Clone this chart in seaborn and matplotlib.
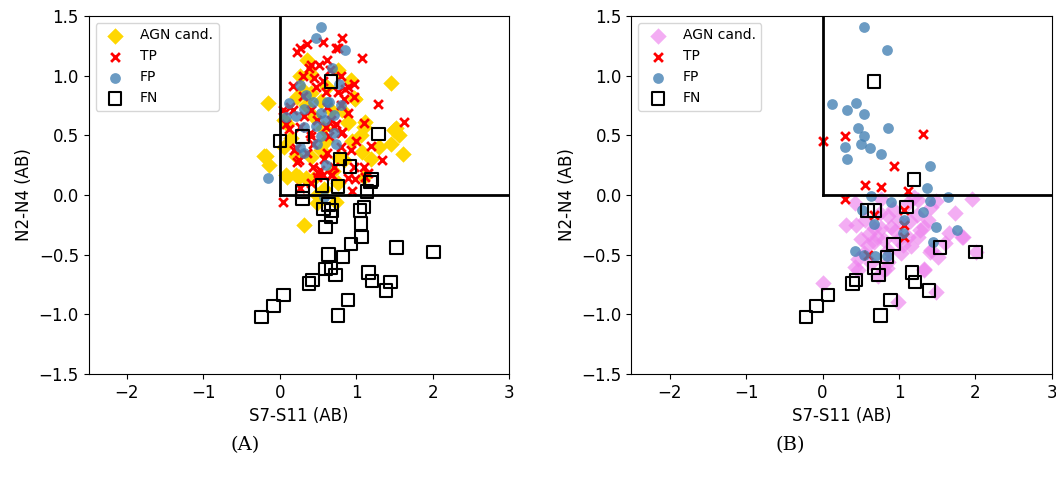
import matplotlib
matplotlib.use("Agg")
import matplotlib.pyplot as plt
import seaborn as sns

# ---- panel A data (S7-S11, N2-N4) ----
agn_a_x = [1.45, -0.16, 0.27, 0.41, 0.23, 0.97, 0.89, 0.05, 1.49, 1.45, 1.61, 1.10, 1.06,
           -0.21, -0.14, 0.10, 0.25, 0.76, 1.10, 0.41, 0.84, 0.54, 0.67, 0.54, 0.76, 0.36,
           0.49, 0.10, 0.98, 0.89, 1.52, 1.56, 1.08, 1.12, 0.34, 0.77, 0.43, 0.21, 0.56,
           0.82, 0.93, 0.08, 0.32, 0.49, 0.73, 0.34, -0.18, 0.21, 0.60, 0.45, 0.15, 1.30,
           0.62, 0.70, 0.30, 0.95, 1.20, 0.58, 0.40, 0.05]
agn_a_y = [0.94, 0.77, 1.00, 0.85, 0.82, 0.81, 0.60, 0.63, 0.54, 0.43, 0.34, 0.57, 0.50,
           0.33, 0.25, 0.15, 0.15, 0.10, 0.15, 0.32, 0.29, 0.38, 0.71, 0.79, 1.05, 1.13,
           0.00, 0.59, 0.80, 0.61, 0.56, 0.50, 0.36, 0.61, 0.75, 0.31, 0.13, 0.17, 0.56,
           0.71, 0.96, 0.17, -0.25, -0.07, -0.06, 0.14, 0.33, 0.33, 0.45, 0.65, 0.48, 0.40,
           0.90, 0.20, 0.88, 0.45, 0.30, 0.05, 1.02, 0.40]

tp_a_x = [0.27, 0.36, 0.56, 0.82, 0.76, 1.07, 0.62, 0.41, 0.30, 0.45, 0.56, 0.80, 0.89,
          0.97, 0.17, 0.47, 0.60, 0.76, 0.84, 1.28, 0.04, 0.14, 0.41, 0.62, 0.80, 0.89,
          0.32, 0.49, 0.67, 1.62, 1.10, 0.27, 0.71, 0.41, 0.64, 0.80, 1.19, 1.34, 0.19,
          0.23, 0.36, 0.62, 0.80, 0.93, 0.43, 0.53, 0.71, 0.97, 1.10, 0.49, 0.67, 0.89,
          0.99, 1.15, 0.95, 0.04, 0.27, 0.41, 0.23, 0.51, 0.73, 0.38, 0.17, 0.08, 0.82,
          0.50, 0.69, 1.12, 0.56, 0.86, 0.97, 0.21, 0.25, 0.44, 0.60, 0.73, 1.00, 0.30,
          0.39, 0.66, 0.58, 0.12]
tp_a_y = [1.23, 1.26, 1.28, 1.31, 1.23, 1.15, 1.13, 1.09, 1.00, 0.98, 0.95, 1.00, 0.90,
          0.93, 0.91, 0.90, 0.86, 0.86, 0.80, 0.76, 0.71, 0.74, 0.71, 0.74, 0.75, 0.69,
          0.66, 0.63, 0.63, 0.61, 0.60, 0.57, 0.57, 0.49, 0.49, 0.52, 0.41, 0.29, 0.38,
          0.28, 0.35, 0.35, 0.40, 0.38, 0.23, 0.21, 0.23, 0.23, 0.23, 0.15, 0.17, 0.14,
          0.13, 0.18, 0.03, -0.06, 0.06, 0.10, 1.20, 1.09, 1.23, 1.06, 0.71, 0.59, 0.53,
          0.18, 0.17, 0.15, 0.17, 0.89, 0.82, 0.39, 0.29, 0.43, 0.57, 0.59, 0.45, 0.83,
          0.52, 1.05, 0.30, 0.55]

fp_a_x = [0.54, 0.47, 0.85, 0.68, 0.77, 0.27, 0.43, 0.34, 0.62, 0.12, 0.32, 0.54, 0.21,
          0.08, 0.71, 0.59, 0.47, 0.32, 0.71, 0.54, 0.27, 0.49, 0.73, 0.32, 0.60, -0.16,
          0.58, 0.80, 0.64]
fp_a_y = [1.41, 1.31, 1.21, 1.06, 0.93, 0.92, 0.78, 0.84, 0.78, 0.77, 0.72, 0.69, 0.66,
          0.65, 0.67, 0.63, 0.58, 0.57, 0.52, 0.49, 0.40, 0.43, 0.43, 0.35, 0.25, 0.14,
          -0.02, 0.75, 0.78]

fn_a_x = [0.67, 0.30, 0.00, 1.29, 0.79, 0.92, 1.20, 0.55, 0.76, 1.19, 1.14, 0.30, 0.30,
          0.64, 0.57, 0.68, 0.67, 1.10, 1.05, 1.06, 0.60, 1.07, 0.93, 1.53, 2.01, 0.64,
          0.83, 0.60, 0.67, 0.73, 1.16, 1.21, 1.45, 1.39, 0.43, 0.38, 0.05, -0.08, -0.24,
          0.89, 0.76]
fn_a_y = [0.95, 0.49, 0.45, 0.51, 0.30, 0.24, 0.13, 0.08, 0.07, 0.11, 0.03, 0.03, -0.03,
          -0.08, -0.12, -0.13, -0.18, -0.10, -0.13, -0.24, -0.27, -0.35, -0.41, -0.44, -0.48,
          -0.50, -0.52, -0.62, -0.61, -0.67, -0.65, -0.72, -0.73, -0.80, -0.71, -0.74, -0.84,
          -0.93, -1.02, -0.88, -1.01]

# ---- panel B data ----
agn_b_x = [0.42, 0.31, 0.44, 0.55, 0.75, 0.86, 0.77, 0.71, 0.90, 0.99, 1.25, 1.23, 1.42,
           1.73, 1.95, 1.33, 1.25, 1.65, 1.82, 1.42, 1.16, 0.99, 1.03, 0.86, 0.68, 0.54,
           0.47, 0.64, 0.86, 0.47, 1.33, 1.51, 2.01, 0.81, 1.12, 0.61, 0.01, 0.43, 0.73,
           0.99, 1.33, 1.48, 0.85, 1.84, 0.77, 1.20, 1.49, 1.12, 1.27, 1.38, 0.95, 1.05,
           0.60, 0.80, 1.15, 0.50, 0.92, 1.60, 0.68, 1.40]
agn_b_y = [-0.07, -0.25, -0.25, -0.21, -0.15, -0.18, -0.28, -0.35, -0.27, -0.21, -0.04,
           -0.17, -0.10, -0.15, -0.03, -0.27, -0.35, -0.32, -0.35, -0.46, -0.43, -0.38,
           -0.49, -0.46, -0.39, -0.49, -0.54, -0.57, -0.56, -0.63, -0.63, -0.52, -0.48,
           -0.63, -0.35, -0.33, -0.74, -0.60, -0.68, -0.90, -0.62, -0.81, -0.61, -0.35,
           -0.03, -0.02, -0.05, -0.07, -0.29, -0.21, -0.30, -0.42, -0.42, -0.38, -0.22,
           -0.37, -0.12, -0.40, -0.28, -0.48]

tp_b_x = [0.01, 0.30, 1.31, 0.93, 0.55, 0.76, 1.12, 0.29, 1.06, 0.67, 1.07, 1.07, 0.60]
tp_b_y = [0.45, 0.49, 0.51, 0.24, 0.08, 0.07, 0.03, -0.03, -0.13, -0.17, -0.25, -0.35, -0.50]

fp_b_x = [0.54, 0.85, 0.12, 0.32, 0.44, 0.54, 0.47, 0.86, 0.54, 0.30, 0.50, 0.62, 0.32,
          0.77, 1.40, 1.37, 0.64, 0.89, 1.40, 1.64, 0.51, 0.67, 1.32, 1.07, 1.49, 1.76,
          1.05, 1.45, 0.42, 0.54, 0.69, 0.84]
fp_b_y = [1.41, 1.21, 0.76, 0.71, 0.77, 0.68, 0.56, 0.56, 0.49, 0.40, 0.43, 0.39, 0.30,
          0.34, 0.24, 0.06, -0.01, -0.06, -0.05, -0.02, -0.13, -0.24, -0.14, -0.21, -0.27,
          -0.29, -0.32, -0.39, -0.47, -0.50, -0.51, -0.51]

fn_b_x = [0.67, 1.20, 0.59, 0.68, 1.10, 0.93, 0.84, 1.54, 2.00, 0.67, 0.73, 0.44, 0.39,
          1.17, 1.21, 1.39, 0.89, 0.76, 0.07, -0.08, -0.22]
fn_b_y = [0.95, 0.13, -0.13, -0.13, -0.10, -0.41, -0.52, -0.44, -0.48, -0.61, -0.67, -0.71,
          -0.74, -0.65, -0.73, -0.80, -0.88, -1.01, -0.84, -0.93, -1.02]


def draw_panel(ax, agn_x, agn_y, agn_color, agn_alpha, tp_x, tp_y, fp_x, fp_y, fn_x, fn_y):
    sns.scatterplot(x=agn_x, y=agn_y, ax=ax, marker="D", s=70, color=agn_color,
                    alpha=agn_alpha, linewidth=0, label="AGN cand.")
    sns.scatterplot(x=tp_x, y=tp_y, ax=ax, marker="x", s=40, color="red",
                    linewidth=2, label="TP")
    sns.scatterplot(x=fp_x, y=fp_y, ax=ax, marker="o", s=60, color="steelblue",
                    alpha=0.8, linewidth=0, label="FP")
    ax.scatter(fn_x, fn_y, marker="s", s=80, facecolors="none", edgecolors="black",
               linewidths=1.5, label="FN")

    # selection box
    ax.plot([0, 0], [0, 1.5], color="black", lw=2)
    ax.plot([0, 3], [0, 0], color="black", lw=2)

    ax.set_xlim(-2.5, 3)
    ax.set_ylim(-1.5, 1.5)
    ax.set_xticks([-2, -1, 0, 1, 2, 3])
    ax.set_yticks([-1.5, -1.0, -0.5, 0.0, 0.5, 1.0, 1.5])
    ax.tick_params(labelsize=12)
    ax.set_xlabel("S7-S11 (AB)", fontsize=12)
    ax.set_ylabel("N2-N4 (AB)", fontsize=12)
    ax.legend(loc="upper left", fontsize=10)


fig = plt.figure(figsize=(10.56, 4.79), dpi=100)
ax_a = fig.add_axes([0.084, 0.219, 0.398, 0.748])
ax_b = fig.add_axes([0.598, 0.219, 0.398, 0.748])

draw_panel(ax_a, agn_a_x, agn_a_y, "gold", 1.0, tp_a_x, tp_a_y, fp_a_x, fp_a_y, fn_a_x, fn_a_y)
draw_panel(ax_b, agn_b_x, agn_b_y, "violet", 0.65, tp_b_x, tp_b_y, fp_b_x, fp_b_y, fn_b_x, fn_b_y)

fig.text(0.232, 0.06, "(A)", fontsize=14, family="DejaVu Serif", ha="center")
fig.text(0.748, 0.06, "(B)", fontsize=14, family="DejaVu Serif", ha="center")

fig.savefig("out.png", dpi=100)
